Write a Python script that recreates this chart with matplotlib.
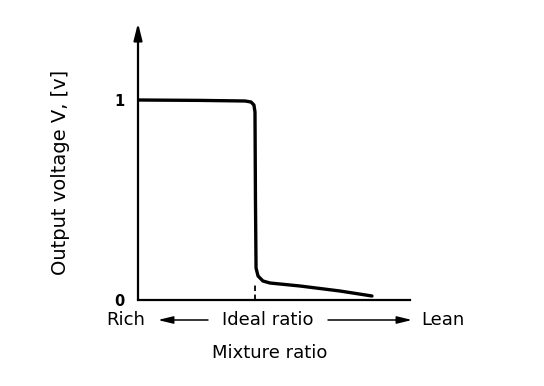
import numpy as np
import matplotlib
matplotlib.use("Agg")
import matplotlib.pyplot as plt

plt.rcParams['font.family'] = ['DejaVu Sans']

# mixture ratio (ideal ratio = 1.0) and sensor output voltage
mixture = [0.0, 0.53, 0.915, 0.966, 0.991, 1.0, 1.004, 1.009, 1.026, 1.068, 1.128, 1.385, 1.726, 2.0]
voltage = [1.0, 0.998, 0.995, 0.99, 0.975, 0.94, 0.5, 0.16, 0.12, 0.095, 0.085, 0.07, 0.045, 0.02]
ideal_ratio = 1.0
yticks = [0, 1]
ytick_labels = ['0', '1']

W, H = 544, 386
fig = plt.figure(figsize=(W / 100, H / 100), dpi=100)

def fx(px):
    return px / W

def fy(py):
    return 1 - py / H

ax = fig.add_axes([fx(138), fy(300), fx(410) - fx(138), fy(24) - fy(300)])
ax.set_xlim(0, 2.325)
ax.set_ylim(0, 1.38)

ax.plot(mixture, voltage, color='black', lw=2.4, solid_capstyle='round', solid_joinstyle='round')
ax.plot([ideal_ratio, ideal_ratio], [0, 0.085], color='black', lw=1.3, ls=(0, (3, 2)))

for s in ax.spines.values():
    s.set_visible(False)
# axes lines
ax.plot([0, 2.325], [0, 0], color='black', lw=1.6, clip_on=False)
ax.annotate('', xy=(0, 1.385), xytext=(0, 0), xycoords='data',
            arrowprops=dict(arrowstyle='-|>,head_length=1.0,head_width=0.25', color='black', lw=1.6,
                            shrinkA=0, shrinkB=0), annotation_clip=False)

ax.set_xticks([])
ax.set_yticks(yticks)
ax.set_yticklabels(ytick_labels, fontsize=10.5, fontweight='bold')
ax.tick_params(axis='y', length=0, pad=10)

ax.set_ylabel('Output voltage V, [v]', fontsize=14)
ax.yaxis.set_label_coords(fx(70) / ax.get_position().width - fx(138) / ax.get_position().width,
                          (fy(172) - fy(300)) / (fy(24) - fy(300)))

# bottom labels
fig.text(fx(126), fy(320), 'Rich', fontsize=13, ha='center', va='center')
fig.text(fx(268), fy(320), 'Ideal ratio', fontsize=13, ha='center', va='center')
fig.text(fx(443), fy(320), 'Lean', fontsize=13, ha='center', va='center')
arrow = dict(arrowstyle='-|>,head_length=0.9,head_width=0.22', color='black', lw=1.1, shrinkA=0, shrinkB=0)
ax.annotate('', xy=(fx(158), fy(320)), xytext=(fx(208), fy(320)), xycoords='figure fraction',
            textcoords='figure fraction', arrowprops=arrow, annotation_clip=False)
ax.annotate('', xy=(fx(412), fy(320)), xytext=(fx(328), fy(320)), xycoords='figure fraction',
            textcoords='figure fraction', arrowprops=arrow, annotation_clip=False)
fig.text(fx(270), fy(353), 'Mixture ratio', fontsize=13, ha='center', va='center')

fig.savefig('out.png', dpi=100, facecolor='white')
